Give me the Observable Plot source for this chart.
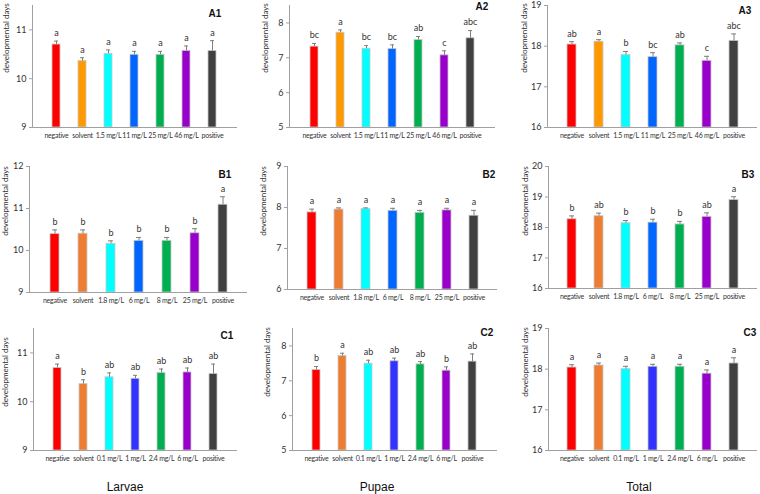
<!DOCTYPE html>
<html><head><meta charset="utf-8">
<script src="https://cdn.jsdelivr.net/npm/d3@7"></script>
<script src="https://cdn.jsdelivr.net/npm/@observablehq/plot@0.6"></script>
<style>
body{margin:0;background:#fff;font-family:"Lato",sans-serif}
#wrap{position:relative;width:760px;height:494px;overflow:hidden;background:#fff}
#wrap svg{position:absolute}
#wrap svg g[aria-label="x-axis tick label"] text{letter-spacing:-0.25px}
.yl{position:absolute;font:8px "Lato",sans-serif;color:#333;white-space:nowrap;transform:translate(-50%,-50%) rotate(-90deg)}
.pl{position:absolute;font:bold 10px "Liberation Sans",Arial,sans-serif;color:#111;transform:translate(-50%,-50%)}
.ct{position:absolute;font:12px "Liberation Sans",Arial,sans-serif;color:#111;transform:translate(-50%,-50%)}
</style></head><body><div id="wrap"></div>
<script>
// categories
const catsA = ["negative","solvent","1.5 mg/L","11 mg/L","25 mg/L","46 mg/L","positive"];
const catsB = ["negative","solvent","1.8 mg/L","6 mg/L","8 mg/L","25 mg/L","positive"];
const catsC = ["negative","solvent","0.1 mg/L","1 mg/L","2.4 mg/L","6 mg/L","positive"];
const colorsA = ["#ff0000","#ff9900","#00ffff","#0066ff","#00b050","#9900cc","#404040"];
const colorsB = ["#ff0000","#ed7d31","#00ffff","#0066ff","#00b050","#9900cc","#404040"];
const colorsC = ["#ff0000","#ed7d31","#00ffff","#3333ff","#00b050","#9900cc","#404040"];
const columnTitles = ["Larvae","Pupae","Total"];
const yLabel = "developmental days";

// means, standard errors, letters
const meanA1 = [10.70,10.36,10.51,10.49,10.49,10.57,10.57];
const seA1   = [0.07,0.07,0.08,0.07,0.07,0.10,0.21];
const letA1  = ["a","a","a","a","a","a","a"];
const meanA2 = [7.32,7.72,7.26,7.25,7.51,7.07,7.56];
const seA2   = [0.09,0.08,0.09,0.12,0.10,0.13,0.22];
const letA2  = ["bc","a","bc","bc","ab","c","abc"];
const meanA3 = [18.04,18.11,17.78,17.73,18.02,17.64,18.13];
const seA3   = [0.07,0.05,0.09,0.11,0.06,0.11,0.17];
const letA3  = ["ab","a","b","bc","ab","c","abc"];

const meanB1 = [10.39,10.40,10.16,10.23,10.23,10.41,11.09];
const seB1   = [0.10,0.09,0.07,0.08,0.08,0.11,0.19];
const letB1  = ["b","b","b","b","b","b","a"];
const meanB2 = [7.88,7.95,7.96,7.92,7.87,7.93,7.80];
const seB2   = [0.08,0.04,0.03,0.06,0.06,0.05,0.13];
const letB2  = ["a","a","a","a","a","a","a"];
const meanB3 = [18.27,18.37,18.14,18.16,18.10,18.35,18.90];
const seB3   = [0.11,0.10,0.09,0.11,0.10,0.13,0.11];
const letB3  = ["b","ab","b","b","b","ab","a"];

const meanC1 = [10.69,10.36,10.50,10.47,10.59,10.60,10.57];
const seC1   = [0.08,0.09,0.09,0.07,0.08,0.09,0.20];
const letC1  = ["a","b","ab","ab","ab","ab","ab"];
const meanC2 = [7.31,7.71,7.49,7.56,7.47,7.29,7.55];
const seC2   = [0.10,0.08,0.10,0.09,0.08,0.11,0.22];
const letC2  = ["b","a","ab","ab","ab","b","ab"];
const meanC3 = [18.04,18.09,18.00,18.06,18.06,17.89,18.14];
const seC3   = [0.07,0.06,0.07,0.06,0.06,0.09,0.14];
const letC3  = ["a","a","a","a","a","a","a"];

// y domains and ticks
const domA1=[9,11.5], ticksA1=[9,10,11];
const domA2=[5,8.5],  ticksA2=[5,6,7,8];
const domA3=[16,19],  ticksA3=[16,17,18,19];
const domB1=[9,12],   ticksB1=[9,10,11,12];
const domB2=[6,9],    ticksB2=[6,7,8,9];
const domB3=[16,20],  ticksB3=[16,17,18,19,20];
const domC1=[9,11.5], ticksC1=[9,10,11];
const domC2=[5,8.5],  ticksC2=[5,6,7,8];
const domC3=[16,19],  ticksC3=[16,17,18,19];

const wrap = document.getElementById("wrap");

const panels = [
  {id:"A1",cats:catsA,colors:colorsA,mean:meanA1,se:seA1,let:letA1,dom:domA1,ticks:ticksA1,
   L:0,T:0,W:250,H:160,ml:32,mr:13,mt:5,mb:33, yl:[6,38], pl:[215,13]},
  {id:"A2",cats:catsA,colors:colorsA,mean:meanA2,se:seA2,let:letA2,dom:domA2,ticks:ticksA2,
   L:250,T:0,W:250,H:160,ml:39,mr:5,mt:5,mb:33, yl:[265,38], pl:[482,6]},
  {id:"A3",cats:catsA,colors:colorsA,mean:meanA3,se:seA3,let:letA3,dom:domA3,ticks:ticksA3,
   L:500,T:0,W:260,H:160,ml:47,mr:3,mt:5,mb:33, yl:[524,38], pl:[745,10]},
  {id:"B1",cats:catsB,colors:colorsB,mean:meanB1,se:seB1,let:letB1,dom:domB1,ticks:ticksB1,
   L:0,T:160,W:250,H:160,ml:29,mr:3,mt:6,mb:28, yl:[5,201], pl:[225,174]},
  {id:"B2",cats:catsB,colors:colorsB,mean:meanB2,se:seB2,let:letB2,dom:domB2,ticks:ticksB2,
   L:250,T:160,W:250,H:160,ml:37,mr:3,mt:6,mb:31, yl:[263,201], pl:[489,174]},
  {id:"B3",cats:catsB,colors:colorsB,mean:meanB3,se:seB3,let:letB3,dom:domB3,ticks:ticksB3,
   L:500,T:160,W:260,H:160,ml:48,mr:3,mt:6,mb:32, yl:[525,201], pl:[748,174]},
  {id:"C1",cats:catsC,colors:colorsC,mean:meanC1,se:seC1,let:letC1,dom:domC1,ticks:ticksC1,
   L:0,T:315,W:250,H:179,ml:33,mr:13,mt:13,mb:44, yl:[5,372], pl:[227,335]},
  {id:"C2",cats:catsC,colors:colorsC,mean:meanC2,se:seC2,let:letC2,dom:domC2,ticks:ticksC2,
   L:250,T:315,W:250,H:179,ml:42,mr:3,mt:13,mb:44, yl:[267,362], pl:[487,332]},
  {id:"C3",cats:catsC,colors:colorsC,mean:meanC3,se:seC3,let:letC3,dom:domC3,ticks:ticksC3,
   L:500,T:315,W:260,H:179,ml:48,mr:3,mt:13,mb:44, yl:[525,362], pl:[750,332]}
];

for (const p of panels) {
  const data = p.cats.map((c,i)=>({cat:c, mean:p.mean[i], top:p.mean[i]+p.se[i], letter:p.let[i], color:p.colors[i]}));
  const base = p.dom[0];
  const svg = Plot.plot({
    width:p.W, height:p.H,
    marginLeft:p.ml, marginRight:p.mr, marginTop:p.mt, marginBottom:p.mb,
    style:{fontFamily:"Lato, sans-serif", fontSize:"7px", color:"#333", background:"transparent", overflow:"visible"},
    x:{domain:p.cats, padding:0.68, label:null},
    y:{domain:p.dom, label:null},
    color:{type:"identity"},
    marks:[
      Plot.barY(data,{x:"cat", y1:base, y2:"mean", fill:"color", stroke:"#c8c8c8", strokeWidth:0.8}),
      Plot.ruleX(data,{x:"cat", y1:"mean", y2:"top", stroke:"#808080", strokeWidth:1}),
      Plot.tickY(data,{x:"cat", y:"top", stroke:"#808080", strokeWidth:1, insetLeft:2, insetRight:2}),
      Plot.text(data,{x:"cat", y:"top", text:"letter", dy:-8, fontSize:9, fill:"#333"}),
      Plot.frame({anchor:"left", stroke:"#a0a0a0"}),
      Plot.ruleY([base],{stroke:"#a0a0a0"}),
      Plot.axisY(p.ticks,{tickSize:3, tickPadding:3, fontSize:9, stroke:"#a0a0a0", fill:"#333", label:null}),
      Plot.axisX({tickSize:0, tickPadding:6, fontSize:7, fill:"#333", label:null})
    ]
  });
  svg.style.left = p.L + "px";
  svg.style.top = p.T + "px";
  wrap.appendChild(svg);

  const yl = document.createElement("div");
  yl.className = "yl"; yl.textContent = yLabel;
  yl.style.left = p.yl[0] + "px"; yl.style.top = p.yl[1] + "px";
  wrap.appendChild(yl);

  const pl = document.createElement("div");
  pl.className = "pl"; pl.textContent = p.id;
  pl.style.left = p.pl[0] + "px"; pl.style.top = p.pl[1] + "px";
  wrap.appendChild(pl);
}

const titleX = [125, 377, 639];
columnTitles.forEach((t,i)=>{
  const d = document.createElement("div");
  d.className = "ct"; d.textContent = t;
  d.style.left = titleX[i] + "px"; d.style.top = "487px";
  wrap.appendChild(d);
});
</script></body></html>
